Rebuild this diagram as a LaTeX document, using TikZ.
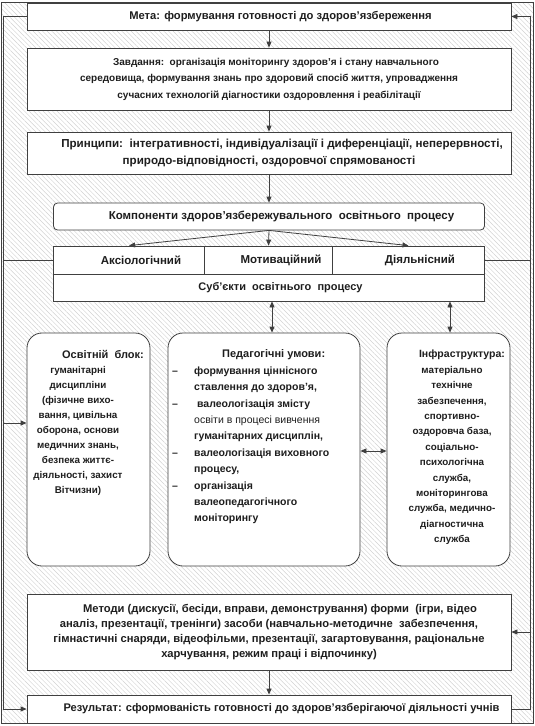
\documentclass[tikz,border=0pt]{standalone}
\usepackage{fontspec}
\setmainfont{Liberation Sans}
\usetikzlibrary{arrows.meta,patterns.meta,calc}
\definecolor{lc}{HTML}{404040}
\definecolor{tc}{HTML}{1E1E1E}
\definecolor{hatchc}{HTML}{D2D2D2}
\newcommand\pdash{\makebox[22pt][l]{–}}
\begin{document}
\begin{tikzpicture}[x=1pt,y=-1pt,
  box/.style n args={2}{draw=lc,fill=white,line width=0.8pt,inner sep=0pt,
     minimum width=#1,minimum height=#2,text=tc},
  txt/.style={inner sep=0pt,text=tc},
  ln/.style={draw=lc,line width=0.8pt},
  arr/.style={ln,-{Triangle[length=6pt,width=5pt]}},
  darr/.style={ln,{Triangle[length=6pt,width=5pt]}-{Triangle[length=6pt,width=5pt]}}]
\useasboundingbox (0,0) rectangle (535,726);
\fill[white] (0,0) rectangle (535,726);
\fill[pattern={Lines[angle=-45,distance=3.3pt,line width=0.45pt]},pattern color=hatchc] (1,2) rectangle (533,723);
\draw[ln] (1,2) rectangle (533,723);

% boxes
\node[box={484pt}{27pt},font=\fontsize{11.2}{16}\selectfont\bfseries] (meta) at (269,16.5)
  {\hspace*{23pt}Мета: формування готовності до здоров’язбереження};
\node[box={484pt}{62pt},align=center,font=\fontsize{10}{16.5}\selectfont\bfseries] (zav) at (269,79)
  {\hspace*{14pt}Завдання:\ \ організація моніторингу здоров’я і стану навчального\\
   середовища, формування знань про здоровий спосіб життя, упровадження\\
   сучасних технологій діагностики оздоровлення і реабілітації};
\node[box={484pt}{42pt},align=center,font=\fontsize{11.6}{16.5}\selectfont\bfseries] (prin) at (269,153)
  {\hspace*{26pt}Принципи:\ \ інтегративності, індивідуалізації і диференціації, неперервності,\\
   природо-відповідності, оздоровчої спрямованості};
\node[box={431pt}{27pt},rounded corners=4pt,font=\fontsize{11.5}{16}\selectfont\bfseries] (komp) at (269,216.5)
  {\hspace*{25pt}Компоненти здоров’язбережувального\ \ освітнього\ \ процесу};
\node[box={151pt}{28pt},font=\fontsize{11.5}{16}\selectfont\bfseries] (c1) at (129,260) {\hspace*{24pt}Аксіологічний};
\node[box={128pt}{28pt},font=\fontsize{11.5}{16}\selectfont\bfseries] (c2) at (268.5,260) {\hspace*{25pt}Мотиваційний};
\node[box={152pt}{28pt},font=\fontsize{11.5}{16}\selectfont\bfseries] (c3) at (408.5,260) {\hspace*{23pt}Діяльнісний};
\node[box={431pt}{27pt},font=\fontsize{11}{16}\selectfont\bfseries] (sub) at (269,287.5) {\hspace*{23pt}Суб’єкти\ \ освітнього\ \ процесу};

\node[box={123pt}{233pt},rounded corners=15pt] (osv) at (88.5,449.5) {};
\node[box={192pt}{233pt},rounded corners=15pt] (ped) at (264,449.5) {};
\node[box={123pt}{233pt},rounded corners=15pt] (inf) at (448.5,449.5) {};

\node[txt,align=center,font=\fontsize{9.8}{15}\selectfont\bfseries] (osvt) at (78,422.5)
  {\hspace*{50pt}{\fontsize{11}{15}\selectfont Освітній\ \ блок:}\\ гуманітарні\\ дисципліни\\ (фізичне вихо-\\ вання, цивільна\\
   оборона, основи\\ медичних знань,\\ безпека життє-\\ діяльності, захист\\ Вітчизни)};
\node[txt,align=left,anchor=west,font=\fontsize{10.5}{16.4}\selectfont\bfseries] (pedt) at (172,437)
  {\hspace*{50pt}{\fontsize{11}{16.4}\selectfont Педагогічні умови:}\\
   \pdash формування ціннісного\\
   \hspace*{22pt}ставлення до здоров’я,\\
   \pdash\ валеологізація змісту\\
   \hspace*{22pt}{\mdseries освіти в процесі вивчення}\\
   \hspace*{22pt}гуманітарних дисциплін,\\
   \pdash валеологізація виховного\\
   \hspace*{22pt}процесу,\\
   \pdash організація\\
   \hspace*{22pt}валеопедагогічного\\
   \hspace*{22pt}моніторингу};
\node[txt,align=center,font=\fontsize{9.8}{15.4}\selectfont\bfseries] (inft) at (452,447.5)
  {\hspace*{20pt}{\fontsize{10.5}{15.4}\selectfont Інфраструктура:}\\ матеріально\\ технічне\\ забезпечення,\\ спортивно-\\
   оздоровча база,\\ соціально-\\ психологічна\\ служба,\\ моніторингова\\ служба, медично-\\
   діагностична\\ служба};

\node[box={484pt}{76pt},align=center,font=\fontsize{11.2}{15.3}\selectfont\bfseries] (met) at (269,632)
  {\hspace*{22pt}Методи (дискусії, бесіди, вправи, демонстрування) форми\ \ (ігри, відео\\
   аналіз, презентації, тренінги) засоби (навчально-методичне\ \ забезпечення,\\
   гімнастичні снаряди, відеофільми, презентації, загартовування, раціональне\\
   харчування, режим праці і відпочинку)};
\node[box={484pt}{28pt},font=\fontsize{11.1}{16}\selectfont\bfseries] (rez) at (269,709)
  {\hspace*{25pt}Результат: сформованість готовності до здоров’язберігаючої діяльності учнів};

% connectors
\coordinate (L) at (3.5,0);
\coordinate (R) at (530,0);
\coordinate (la) at (3.5,423);
\coordinate (xa) at (272,0);
\coordinate (xb) at (450,0);
\coordinate (ya) at (0,451);
\draw[arr] (meta.west) -- (meta.west -| L) -- (L |- rez.west) -- (rez.west);
\draw[ln] (c1.west) -- (c1.west -| L);
\draw[arr] (la) -- (la -| osv.west);
\draw[arr] (rez.east) -- (rez.east -| R) -- (R |- meta.east) -- (meta.east);
\draw[ln] (c3.east) -- (c3.east -| R);
\draw[arr] (R |- met.east) -- (met.east);
\draw[arr] (meta.south) -- (zav.north);
\draw[arr] (zav.south) -- (prin.north);
\draw[arr] (prin.south) -- (komp.north);
\draw[arr] (komp.south) -- (c1.north);
\draw[arr] (komp.south) -- (c2.north);
\draw[arr] (komp.south) -- (c3.north);
\draw[darr] (sub.south -| xa) -- (ped.north -| xa);
\draw[darr] (sub.south -| xb) -- (inf.north -| xb);
\draw[darr] (ped.east |- ya) -- (inf.west |- ya);
\draw[arr] (met.south) -- (rez.north);
\end{tikzpicture}
\end{document}
